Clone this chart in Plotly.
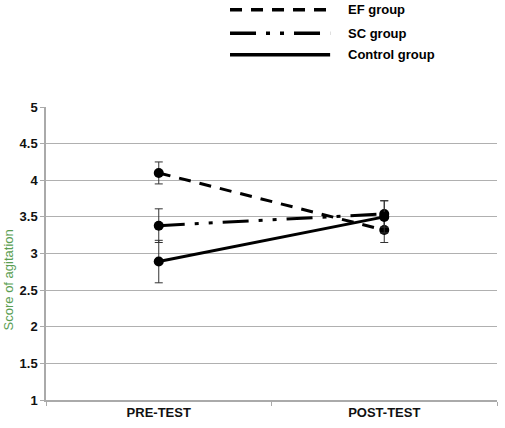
import plotly.graph_objects as go

categories = ["PRE-TEST", "POST-TEST"]
groups = ["EF group", "SC group", "Control group"]
ef_vals = [4.10, 3.32]
ef_err = [0.15, 0.17]
sc_vals = [3.38, 3.54]
sc_err = [0.23, 0.18]
ctrl_vals = [2.89, 3.50]
ctrl_err = [0.29, 0.22]
y_ticks = [1, 1.5, 2, 2.5, 3, 3.5, 4, 4.5, 5]

dashes = {
    "EF group": "12px,9px",
    "SC group": "26px,10px,4px,10px,4px,10px",
    "Control group": "solid",
}
series = [("EF group", ef_vals, ef_err), ("SC group", sc_vals, sc_err),
          ("Control group", ctrl_vals, ctrl_err)]

fig = go.Figure()
for name, vals, err in series:
    fig.add_trace(go.Scatter(
        x=categories, y=vals, name=name, mode="lines+markers",
        line=dict(color="black", width=3, dash=dashes[name]),
        marker=dict(color="black", size=10),
        error_y=dict(type="data", array=err, visible=True, color="#333333",
                     thickness=1, width=4),
        showlegend=False,
    ))

# manual legend (long line samples above the plot)
leg_y = [1.332, 1.252, 1.178]
for (name, _, _), yy in zip(series, leg_y):
    fig.add_shape(type="line", xref="paper", yref="paper",
                  x0=0.408, x1=0.63, y0=yy, y1=yy,
                  line=dict(color="black", width=3.5, dash=dashes[name]))
    fig.add_annotation(xref="paper", yref="paper", x=0.665, y=yy,
                       text="<b>%s</b>" % name, showarrow=False,
                       xanchor="left", yanchor="middle",
                       font=dict(family="Liberation Sans, Arial", size=13, color="black"))

fig.add_annotation(xref="paper", yref="paper", x=-0.083, y=0.41,
                   text="Score of agitation", textangle=-90, showarrow=False,
                   xanchor="center", yanchor="middle",
                   font=dict(family="Liberation Sans, Arial", size=13, color="#5a9e52"))

fig.update_layout(
    width=505, height=428,
    margin=dict(l=46, r=8, t=107, b=23),
    paper_bgcolor="white", plot_bgcolor="white",
    font=dict(family="Liberation Sans, Arial", size=13, color="black"),
    xaxis=dict(type="category", showgrid=False, showline=True, linecolor="#aaaaaa",
               linewidth=1.5, ticks="outside", tickson="boundaries", ticklen=4,
               tickcolor="#aaaaaa", tickfont=dict(size=13, color="#111111"),
               tickprefix="<b>", ticksuffix="</b>", range=[-0.5, 1.5]),
    yaxis=dict(range=[1, 5], tickvals=y_ticks,
               ticktext=["<b>%g</b>" % v for v in y_ticks],
               showgrid=True, gridcolor="#b0b0b0", gridwidth=1,
               showline=True, linecolor="#aaaaaa", linewidth=1.5,
               ticks="outside", ticklen=4, tickcolor="#aaaaaa",
               tickfont=dict(size=13, color="#111111"), zeroline=False),
)

fig.write_html("out.html")
